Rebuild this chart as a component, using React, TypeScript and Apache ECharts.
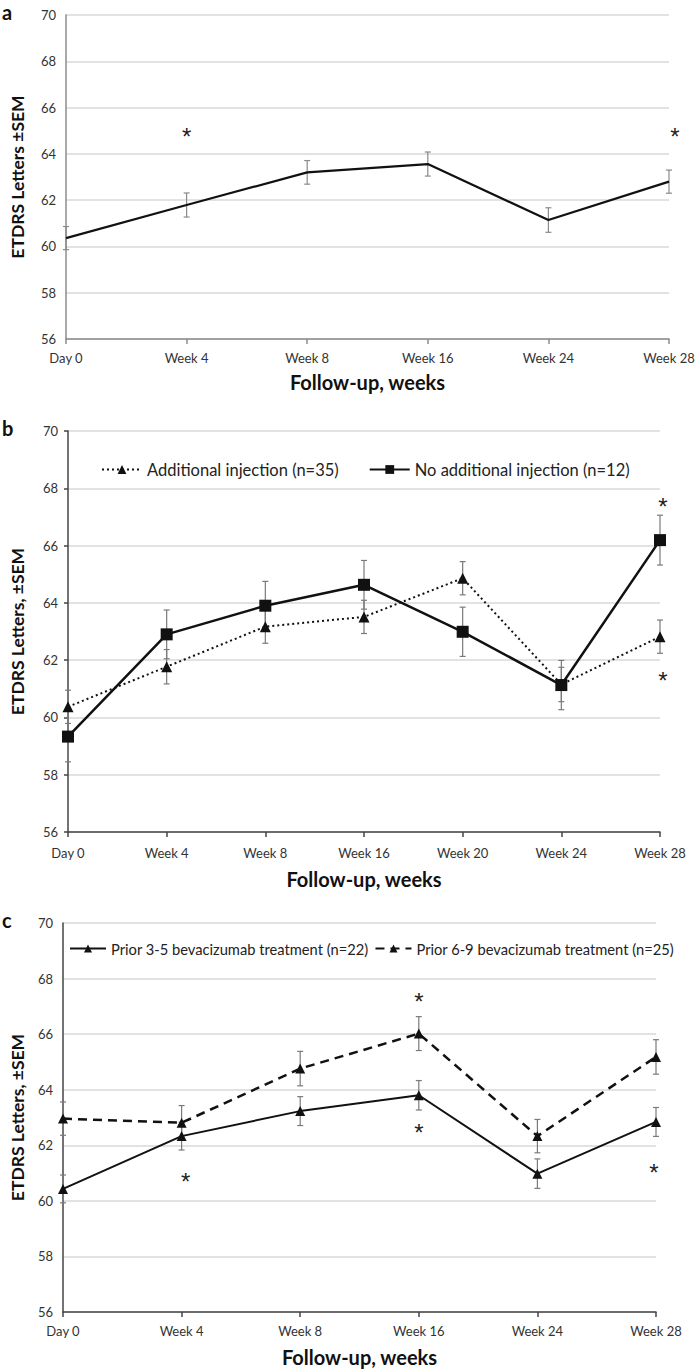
import React, { useEffect, useRef } from "react";
import * as echarts from "echarts";

// ---------- Data ----------
const categoriesA = ["Day 0", "Week 4", "Week 8", "Week 16", "Week 24", "Week 28"];
const meanA = [60.36, 61.79, 63.2, 63.56, 61.14, 62.8];
const semA = [0.5, 0.52, 0.51, 0.52, 0.53, 0.5];
const starsA = [[1, 64.95], [5, 64.95]];

const categoriesB = ["Day 0", "Week 4", "Week 8", "Week 16", "Week 20", "Week 24", "Week 28"];
const additionalName = "Additional injection (n=35)";
const additionalMean = [60.37, 61.77, 63.17, 63.51, 64.86, 61.15, 62.82];
const additionalSem = [0.58, 0.6, 0.58, 0.58, 0.58, 0.6, 0.58];
const noAdditionalName = "No additional injection (n=12)";
const noAdditionalMean = [59.33, 62.9, 63.9, 64.63, 62.99, 61.13, 66.19];
const noAdditionalSem = [0.88, 0.85, 0.85, 0.85, 0.86, 0.86, 0.87];
const starsB = [[6, 67.54], [6, 61.46]];

const categoriesC = ["Day 0", "Week 4", "Week 8", "Week 16", "Week 24", "Week 28"];
const prior35Name = "Prior 3-5 bevacizumab treatment (n=22)";
const prior35Mean = [60.43, 62.33, 63.23, 63.8, 60.98, 62.84];
const prior35Sem = [0.5, 0.5, 0.52, 0.53, 0.53, 0.52];
const prior69Name = "Prior 6-9 bevacizumab treatment (n=25)";
const prior69Mean = [62.96, 62.81, 64.76, 66.02, 62.33, 65.18];
const prior69Sem = [0.6, 0.62, 0.62, 0.61, 0.6, 0.62];
const starsC = [[1, 60.88], [3, 67.34], [3, 62.63], [5, 61.19]];

const yTicksMin = 56;
const yTicksMax = 70;
const yTickStep = 2;

const FONT = "Lato, 'Open Sans', sans-serif";

function errData(mean: number[], sem: number[]) {
  return mean.map((m, i) => [i, m - sem[i], m + sem[i]]);
}

function errorSeries(idx: number, mean: number[], sem: number[], color: string) {
  return {
    type: "custom",
    xAxisIndex: idx,
    yAxisIndex: idx,
    z: 1,
    silent: true,
    data: errData(mean, sem),
    renderItem: (params: any, api: any) => {
      const x = api.value(0);
      const lo = api.value(1);
      const hi = api.value(2);
      const p1 = api.coord([x, hi]);
      const p2 = api.coord([x, lo]);
      const w = 3;
      const style = { stroke: color, lineWidth: 1.2, fill: "none" };
      return {
        type: "group",
        children: [
          { type: "line", shape: { x1: p1[0], y1: p1[1], x2: p2[0], y2: p2[1] }, style },
          { type: "line", shape: { x1: p1[0] - w, y1: p1[1], x2: p1[0] + w, y2: p1[1] }, style },
          { type: "line", shape: { x1: p2[0] - w, y1: p2[1], x2: p2[0] + w, y2: p2[1] }, style },
        ],
      };
    },
  };
}

function starSeries(idx: number, stars: number[][], dx: number[]) {
  return {
    type: "custom",
    xAxisIndex: idx,
    yAxisIndex: idx,
    silent: true,
    z: 5,
    clip: false,
    itemStyle: { color: "#222" },
    data: stars.map((s, i) => [s[0], s[1], dx[i] || 0]),
    renderItem: (params: any, api: any) => {
      const p = api.coord([api.value(0), api.value(1)]);
      return {
        type: "text",
        x: p[0] + api.value(2),
        y: p[1] + 5,
        style: {
          text: "*",
          font: "normal 24px Lato, 'Open Sans', sans-serif",
          fontSize: 24,
          fill: "#222",
          align: "center",
          verticalAlign: "middle",
        },
      };
    },
  };
}

function makeXAxis(idx: number, cats: string[], axisColor: string, nameGap: number, labelMargin: number) {
  return {
    type: "category",
    gridIndex: idx,
    data: cats,
    boundaryGap: false,
    name: "Follow-up, weeks",
    nameLocation: "middle",
    nameGap,
    nameTextStyle: { fontSize: 20, color: "#111", fontFamily: FONT, fontWeight: "bold" },
    axisLine: { show: true, lineStyle: { color: axisColor, width: 1.5 } },
    axisTick: { show: true, length: 5, alignWithLabel: true, lineStyle: { color: axisColor, width: 1.5 } },
    axisLabel: { fontSize: 13, color: "#333", fontFamily: FONT, margin: labelMargin, interval: 0 },
    splitLine: { show: false },
  };
}

function makeYAxis(idx: number, name: string, axisColor: string, nameGap: number, showTicks: boolean) {
  return {
    type: "value",
    gridIndex: idx,
    min: yTicksMin,
    max: yTicksMax,
    interval: yTickStep,
    name,
    nameLocation: "middle",
    nameGap,
    nameTextStyle: { fontSize: 17.5, color: "#111", fontFamily: FONT, fontWeight: "bold" },
    axisLine: { show: true, lineStyle: { color: axisColor, width: 1.5 } },
    axisTick: { show: showTicks, length: 4, lineStyle: { color: axisColor, width: 1.5 } },
    axisLabel: { fontSize: 13, color: "#333", fontFamily: FONT, margin: 10 },
    splitLine: { show: true, lineStyle: { color: "#d9d9d9", width: 1.5 } },
  };
}

export default function App() {
  const ref = useRef<HTMLDivElement>(null);

  useEffect(() => {
    if (!ref.current) return;
    const chart = echarts.init(ref.current, null, { renderer: "svg" });

    const option: any = {
      animation: false,
      backgroundColor: "#ffffff",
      textStyle: { fontFamily: FONT },
      grid: [
        { left: 62, top: 15, width: 607, height: 324 },
        { left: 64, top: 431, width: 596, height: 401 },
        { left: 59, top: 923, width: 597, height: 389 },
      ],
      xAxis: [
        makeXAxis(0, categoriesA, "#8c8c8c", 33, 12),
        makeXAxis(1, categoriesB, "#444", 37, 14),
        makeXAxis(2, categoriesC, "#444", 35, 12),
      ],
      yAxis: [
        makeYAxis(0, "ETDRS Letters ±SEM", "#8c8c8c", 40, false),
        makeYAxis(1, "ETDRS Letters, ±SEM", "#444", 42, true),
        makeYAxis(2, "ETDRS Letters, ±SEM", "#444", 37, false),
      ],
      legend: [
        {
          left: 96,
          top: 456,
          itemWidth: 40,
          itemHeight: 11,
          itemGap: 30,
          data: [additionalName, noAdditionalName],
          textStyle: { fontSize: 16.5, color: "#222", fontFamily: FONT },
        },
        {
          left: 64,
          top: 936,
          itemWidth: 36,
          itemHeight: 10,
          itemGap: 6,
          data: [prior35Name, prior69Name],
          textStyle: { fontSize: 14.7, color: "#222", fontFamily: FONT },
        },
      ],
      graphic: [
        { type: "text", left: 2, top: 2, style: { text: "a", fontSize: 20, fontWeight: "bold", fill: "#111", fontFamily: FONT } },
        { type: "text", left: 2, top: 418, style: { text: "b", fontSize: 20, fontWeight: "bold", fill: "#111", fontFamily: FONT } },
        { type: "text", left: 2, top: 910, style: { text: "c", fontSize: 20, fontWeight: "bold", fill: "#111", fontFamily: FONT } },
      ],
      series: [
        // Panel a
        errorSeries(0, meanA, semA, "#8a8a8a"),
        {
          type: "line",
          name: "Overall",
          xAxisIndex: 0,
          yAxisIndex: 0,
          data: meanA,
          symbol: "none",
          z: 3,
          lineStyle: { color: "#111", width: 2.2 },
        },
        starSeries(0, starsA, [0, 6]),

        // Panel b
        errorSeries(1, additionalMean, additionalSem, "#7a7a7a"),
        errorSeries(1, noAdditionalMean, noAdditionalSem, "#7a7a7a"),
        {
          type: "line",
          name: additionalName,
          xAxisIndex: 1,
          yAxisIndex: 1,
          data: additionalMean,
          symbol: "triangle",
          symbolSize: 11,
          z: 3,
          itemStyle: { color: "#111" },
          lineStyle: { color: "#111", width: 2, type: [2, 3] },
        },
        {
          type: "line",
          name: noAdditionalName,
          xAxisIndex: 1,
          yAxisIndex: 1,
          data: noAdditionalMean,
          symbol: "rect",
          symbolSize: 12,
          z: 4,
          itemStyle: { color: "#111" },
          lineStyle: { color: "#111", width: 2.5 },
        },
        starSeries(1, starsB, [3, 3]),

        // Panel c
        errorSeries(2, prior35Mean, prior35Sem, "#7a7a7a"),
        errorSeries(2, prior69Mean, prior69Sem, "#7a7a7a"),
        {
          type: "line",
          name: prior35Name,
          xAxisIndex: 2,
          yAxisIndex: 2,
          data: prior35Mean,
          symbol: "triangle",
          symbolSize: 10,
          z: 3,
          itemStyle: { color: "#111" },
          lineStyle: { color: "#111", width: 2 },
        },
        {
          type: "line",
          name: prior69Name,
          xAxisIndex: 2,
          yAxisIndex: 2,
          data: prior69Mean,
          symbol: "triangle",
          symbolSize: 10,
          z: 3,
          itemStyle: { color: "#111" },
          lineStyle: { color: "#111", width: 2.5, type: [9, 6] },
        },
        starSeries(2, starsC, [4, 0, 0, -2]),
      ],
    };

    chart.setOption(option);
    return () => chart.dispose();
  }, []);

  return (
    <div
      ref={ref}
      style={{ position: "absolute", left: 0, top: 0, width: 699, height: 1371, background: "#fff" }}
    />
  );
}
